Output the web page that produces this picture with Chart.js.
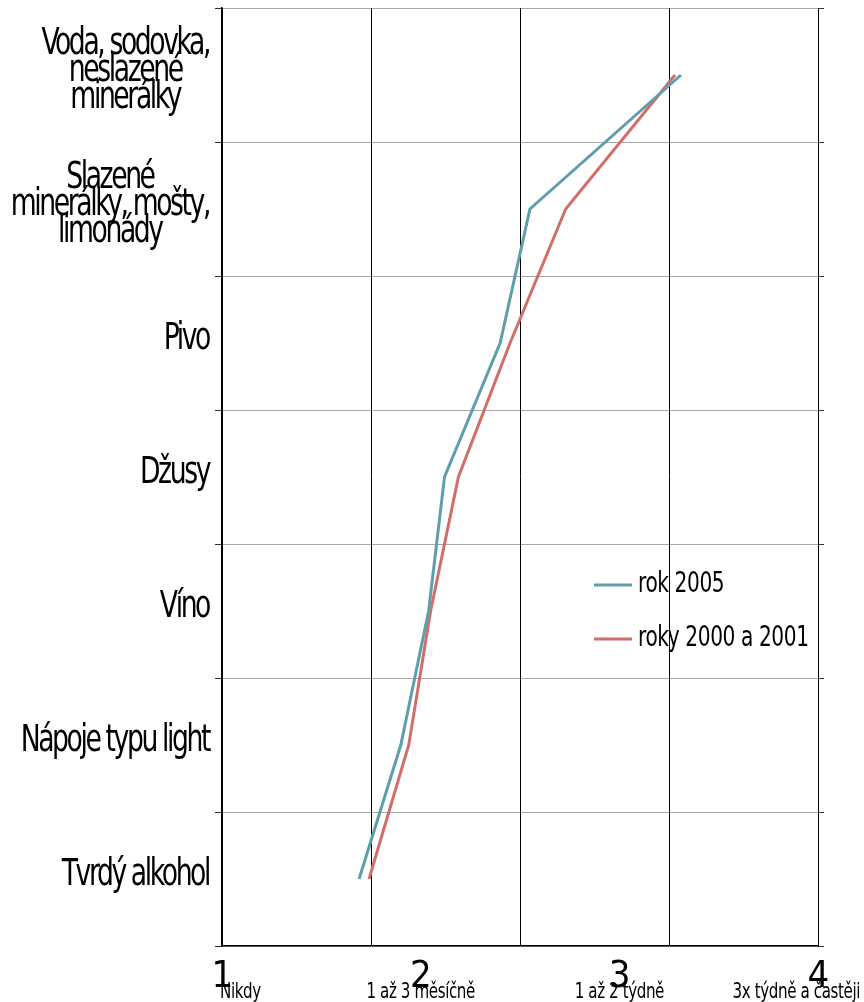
<!DOCTYPE html>
<html>
<head>
<meta charset="utf-8">
<script src="https://cdn.jsdelivr.net/npm/chart.js@4.4.0/dist/chart.umd.min.js"></script>
<style>
  html, body { margin: 0; padding: 0; background: #fff; }
  #wrap { width: 864px; height: 1002px; }
</style>
</head>
<body>
<div id="wrap"><canvas id="chart" width="864" height="1002"></canvas></div>
<script>
// drink categories, top to bottom
var drinks = [
    ['Voda, sodovka,', 'neslazené', 'minerálky'],
    ['Slazené', 'minerálky, mošty,', 'limonády'],
    'Pivo',
    'Džusy',
    'Víno',
    'Nápoje typu light',
    'Tvrdý alkohol'
];
// average frequency of drinking (1 = never ... 4 = 3x weekly and more)
var rok2005 = [3.31, 2.55, 2.40, 2.12, 2.04, 1.90, 1.69];
var roky2000a2001 = [3.28, 2.73, 2.45, 2.19, 2.05, 1.94, 1.74];

// bottom axis
var freqValues = [1, 2, 3, 4];
var freqLabels = ['Nikdy', '1 až 3 měsíčně', '1 až 2 týdně', '3x týdně a častěji'];
var gridStops = [1, 1.75, 2.5, 3.25, 4];

var fontFamily = "'Liberation Sans Narrow', 'DejaVu Sans Condensed', 'Liberation Sans', sans-serif";
var squeeze = 0.8;   // the original text is narrow and tight

// draw a line of text squeezed horizontally around its anchor
function narrowText(ctx, text, x, y, align) {
    ctx.save();
    ctx.translate(x, y);
    ctx.scale(squeeze, 1);
    ctx.textAlign = align;
    ctx.fillText(text, 0, 0);
    ctx.restore();
}

var narrowLabels = {
    id: 'narrowLabels',
    beforeDraw: function (chart) {
        chart.ctx.letterSpacing = '-0.5px';
    },
    afterDraw: function (chart) {
        var ctx = chart.ctx;

        // category labels: block right aligned, lines centred inside it
        var ys = chart.scales.y;
        var anchorX = ys.right - 13;
        ctx.save();
        ctx.font = '37px ' + fontFamily;
        ctx.letterSpacing = '-3px';
        ctx.fillStyle = '#000';
        ctx.textBaseline = 'middle';
        ys.ticks.forEach(function (tick, i) {
            var label = ys.getLabelForValue(tick.value);
            var lines = Array.isArray(label) ? label : [label];
            var w = 0;
            lines.forEach(function (l) { w = Math.max(w, ctx.measureText(l).width); });
            var cx = anchorX - w * squeeze / 2;
            var cy = ys.getPixelForTick(i) - 4;
            lines.forEach(function (l, j) {
                narrowText(ctx, l, cx, cy + (j - (lines.length - 1) / 2) * 27, 'center');
            });
        });
        ctx.restore();

        // frequency words under the numbers
        var xs = chart.scales.xNum;
        ctx.save();
        ctx.font = '21px ' + fontFamily;
        ctx.letterSpacing = '-0.5px';
        ctx.fillStyle = '#000';
        ctx.textBaseline = 'middle';
        xs.ticks.forEach(function (tick, i) {
            var x = xs.getPixelForValue(tick.value);
            var y = xs.top + 47;
            var text = freqLabels[i];
            if (i === 0) {
                narrowText(ctx, text, x - 2, y, 'left');
            } else if (i === xs.ticks.length - 1) {
                narrowText(ctx, text, chart.width - 4, y, 'right');
            } else {
                narrowText(ctx, text, x, y, 'center');
            }
        });
        ctx.restore();

        // legend inside the plot
        ctx.save();
        ctx.font = '28px ' + fontFamily;
        ctx.letterSpacing = '-0.5px';
        ctx.textBaseline = 'middle';
        chart.data.datasets.forEach(function (ds, i) {
            var y = 585 + i * 54;
            ctx.strokeStyle = ds.borderColor;
            ctx.lineWidth = 3;
            ctx.beginPath();
            ctx.moveTo(594, y);
            ctx.lineTo(632, y);
            ctx.stroke();
            ctx.fillStyle = '#000';
            narrowText(ctx, ds.label, 638, y, 'left');
        });
        ctx.restore();
    }
};

new Chart(document.getElementById('chart').getContext('2d'), {
    type: 'line',
    data: {
        labels: drinks,
        datasets: [{
            label: 'rok 2005',
            data: rok2005,
            borderColor: '#5f9eab',
            borderWidth: 3,
            pointRadius: 0,
            fill: false
        }, {
            label: 'roky 2000 a 2001',
            data: roky2000a2001,
            borderColor: '#d06e6a',
            borderWidth: 3,
            pointRadius: 0,
            fill: false
        }]
    },
    options: {
        indexAxis: 'y',
        responsive: false,
        animation: false,
        devicePixelRatio: 1,
        layout: { padding: { top: 8, left: 0, right: 0, bottom: 0 } },
        scales: {
            y: {
                type: 'category',
                position: 'left',
                offset: true,
                afterFit: function (s) { s.width = 222; s.paddingTop = 0; s.paddingBottom = 0; },
                grid: { offset: true, color: '#a6a6a6', lineWidth: 1, tickLength: 7, tickColor: '#333' },
                border: { color: '#000', width: 1.5 },
                ticks: { display: false }
            },
            yRight: {
                type: 'category',
                position: 'right',
                offset: true,
                afterFit: function (s) { s.width = 46; s.paddingTop = 0; s.paddingBottom = 0; },
                grid: { offset: true, drawOnChartArea: false, tickLength: 6, tickColor: '#333' },
                border: { color: '#000', width: 1 },
                ticks: { display: false }
            },
            x: {
                type: 'linear',
                position: 'bottom',
                min: 1,
                max: 4,
                weight: 0,
                afterBuildTicks: function (s) {
                    s.ticks = gridStops.map(function (v) { return { value: v }; });
                },
                afterFit: function (s) { s.height = 0; },
                grid: { color: '#000', lineWidth: 1, drawTicks: false },
                border: { color: '#000', width: 1.5 },
                ticks: { display: false }
            },
            xNum: {
                type: 'linear',
                position: 'bottom',
                min: 1,
                max: 4,
                weight: 1,
                afterBuildTicks: function (s) {
                    s.ticks = freqValues.map(function (v) { return { value: v }; });
                },
                afterFit: function (s) { s.height = 56; },
                grid: { display: false, drawTicks: false },
                border: { display: false },
                ticks: {
                    color: '#000', padding: 12, autoSkip: false, maxRotation: 0, minRotation: 0,
                    font: { family: fontFamily, size: 38, lineHeight: 1 },
                    callback: function (v, i) { return String(freqValues[i]); }
                }
            }
        },
        plugins: {
            legend: { display: false },
            title: { display: false },
            tooltip: { enabled: false }
        }
    },
    plugins: [narrowLabels]
});
</script>
</body>
</html>
